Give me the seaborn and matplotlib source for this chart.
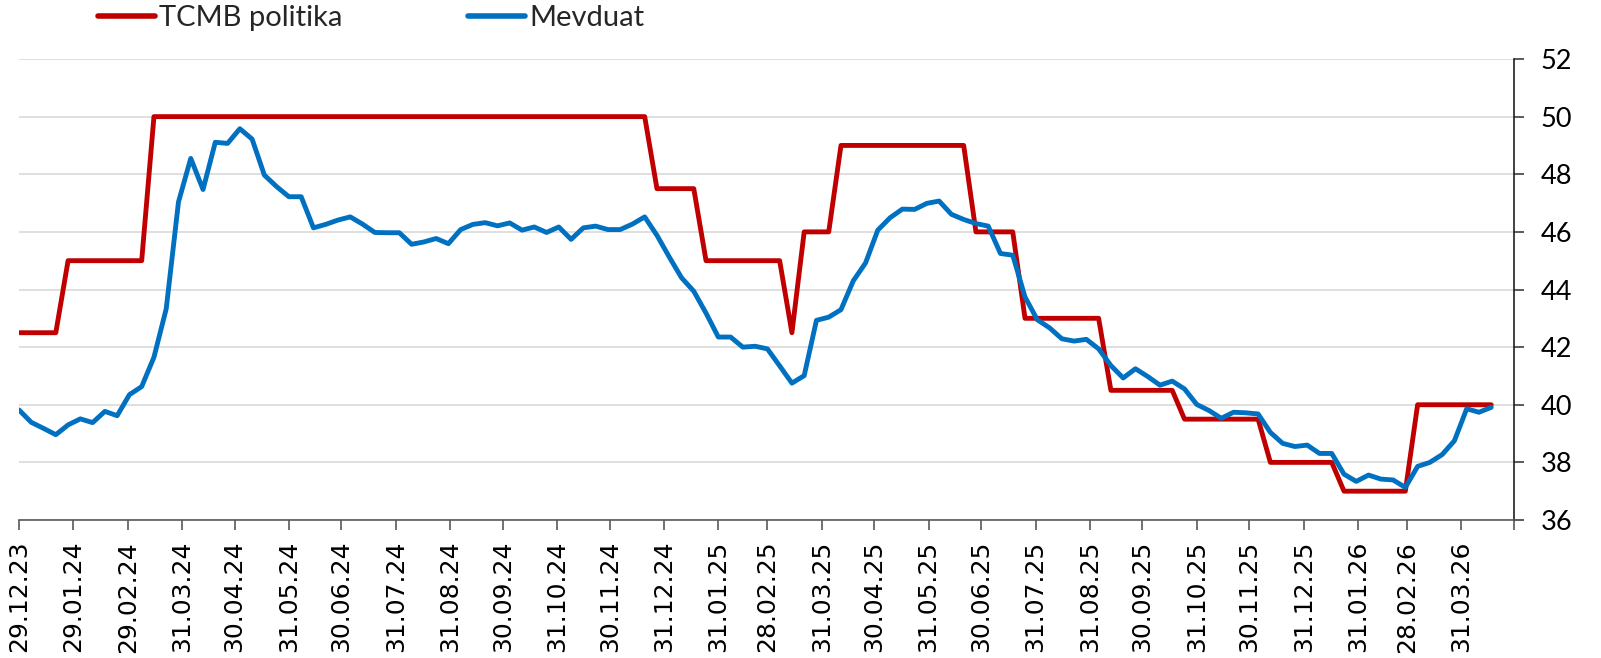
import numpy as np
import pandas as pd
import matplotlib
matplotlib.use("Agg")
import matplotlib.pyplot as plt
import seaborn as sns

# ---- data (weekly, starting 29.12.2023) ----
start_date = "2023-12-29"
n_weeks = 121

tcmb_politika = (
    [42.5] * 4 + [45.0] * 7 + [50.0] * 41 + [47.5] * 4 + [45.0] * 7 +
    [42.5] + [46.0] * 3 + [49.0] * 11 + [46.0] * 4 + [43.0] * 7 +
    [40.5] * 6 + [39.5] * 7 + [38.0] * 6 + [37.0] * 6 + [40.0] * 7
)

mevduat = [
    39.82, 39.39, 39.18, 38.96, 39.30, 39.51, 39.38, 39.77, 39.62, 40.35,
    40.63, 41.65, 43.33, 47.04, 48.55, 47.47, 49.11, 49.07, 49.58, 49.22,
    47.97, 47.57, 47.22, 47.22, 46.14, 46.26, 46.41, 46.52, 46.27, 45.98,
    45.97, 45.97, 45.57, 45.65, 45.77, 45.59, 46.08, 46.26, 46.32, 46.21,
    46.31, 46.06, 46.17, 45.98, 46.17, 45.74, 46.14, 46.20, 46.08, 46.08,
    46.27, 46.52, 45.88, 45.13, 44.41, 43.94, 43.18, 42.35, 42.35, 42.00,
    42.03, 41.94, 41.35, 40.75, 41.01, 42.93, 43.04, 43.30, 44.30, 44.92,
    46.06, 46.49, 46.79, 46.78, 46.99, 47.07, 46.61, 46.43, 46.29, 46.20,
    45.25, 45.19, 43.74, 42.95, 42.67, 42.29, 42.21, 42.27, 41.94, 41.36,
    40.93, 41.25, 40.98, 40.68, 40.82, 40.55, 40.01, 39.80, 39.53, 39.74,
    39.72, 39.68, 39.04, 38.66, 38.55, 38.60, 38.31, 38.31, 37.59, 37.34,
    37.56, 37.42, 37.39, 37.13, 37.86, 38.00, 38.27, 38.75, 39.86, 39.74,
    39.91,
]

tick_dates = [
    "2023-12-29", "2024-01-29", "2024-02-29", "2024-03-31", "2024-04-30",
    "2024-05-31", "2024-06-30", "2024-07-31", "2024-08-31", "2024-09-30",
    "2024-10-31", "2024-11-30", "2024-12-31", "2025-01-31", "2025-02-28",
    "2025-03-31", "2025-04-30", "2025-05-31", "2025-06-30", "2025-07-31",
    "2025-08-31", "2025-09-30", "2025-10-31", "2025-11-30", "2025-12-31",
    "2026-01-31", "2026-02-28", "2026-03-31", "2026-04-30",
]
tick_labels = [
    "29.12.23", "29.01.24", "29.02.24", "31.03.24", "30.04.24",
    "31.05.24", "30.06.24", "31.07.24", "31.08.24", "30.09.24",
    "31.10.24", "30.11.24", "31.12.24", "31.01.25", "28.02.25",
    "31.03.25", "30.04.25", "31.05.25", "30.06.25", "31.07.25",
    "31.08.25", "30.09.25", "31.10.25", "30.11.25", "31.12.25",
    "31.01.26", "28.02.26", "31.03.26", "",
]
y_ticks = [36, 38, 40, 42, 44, 46, 48, 50, 52]

series_names = ["TCMB politika", "Mevduat"]
series_colors = ["#C00000", "#0070C0"]

dates = pd.date_range(start_date, periods=n_weeks, freq="7D")
df = pd.DataFrame({"date": dates,
                   series_names[0]: tcmb_politika,
                   series_names[1]: mevduat})

# ---- style ----
sns.set_style("white")
plt.rcParams["font.family"] = ["DejaVu Sans"]

W, H = 1601, 658
fig = plt.figure(figsize=(W / 100, H / 100), dpi=100)
ax = fig.add_axes([19 / W, 1 - 520 / H, 1495 / W, 461 / H])

for name, col in zip(series_names, series_colors):
    sns.lineplot(data=df, x="date", y=name, ax=ax, color=col, lw=3.5,
                 label=name, solid_joinstyle="round", solid_capstyle="round")

ax.set_xlim(pd.Timestamp("2023-12-29"), pd.Timestamp("2026-04-30"))
ax.set_ylim(36, 52)
ax.set_xlabel("")
ax.set_ylabel("")

ax.grid(axis="y", color="#D9D9D9", lw=1.2)
ax.grid(axis="x", visible=False)
ax.set_axisbelow(True)

ax.set_xticks(pd.to_datetime(tick_dates))
ax.set_xticklabels(tick_labels, rotation=90, fontsize=18)

ax.yaxis.tick_right()
ax.set_yticks(y_ticks)
ax.set_yticklabels([str(v) for v in y_ticks], family="Lato", fontsize=19.5)
ax.tick_params(axis="y", which="both", left=False, right=True,
               labelleft=False, labelright=True, length=7, width=1.2,
               color="#404040", pad=12, labelcolor="black")
ax.tick_params(axis="x", which="both", bottom=True, length=7, width=1.2,
               color="#595959", pad=8, labelcolor="black")

for s in ["top", "left"]:
    ax.spines[s].set_visible(False)
ax.spines["bottom"].set_color("#595959")
ax.spines["bottom"].set_linewidth(1.2)
ax.spines["right"].set_color("#202020")
ax.spines["right"].set_linewidth(1.2)

if ax.legend_:
    ax.legend_.remove()
handles, labels = ax.get_legend_handles_labels()
leg = fig.legend(handles, labels, loc="center left",
                 bbox_to_anchor=(98 / W, 1 - 18 / H), ncol=2, frameon=False,
                 prop={"family": "Lato", "size": 21},
                 handlelength=1.95, handletextpad=0.15,
                 columnspacing=4.3, borderpad=0, borderaxespad=0)
for line in leg.get_lines():
    line.set_linewidth(4.0)
    line.set_solid_capstyle("round")

fig.savefig("out.png", dpi=100)
